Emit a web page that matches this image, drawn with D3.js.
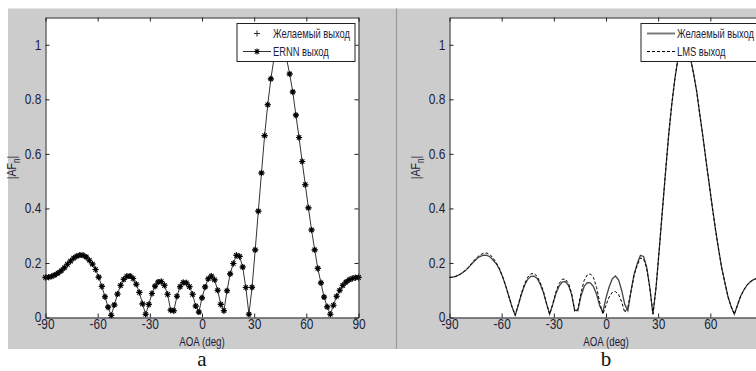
<!DOCTYPE html>
<html>
<head>
<meta charset="utf-8">
<script src="https://cdn.jsdelivr.net/npm/d3@7"></script>
<style>
body{margin:0;background:#fff;}
svg{display:block;}
</style>
</head>
<body>
<svg id="chart" width="756" height="371"></svg>
<script>
// angle grid (deg), step 1.8
var angles = [
    -90, -88.2, -86.4, -84.6, -82.8, -81, -79.2, -77.4, -75.6, -73.8,
    -72, -70.2, -68.4, -66.6, -64.8, -63, -61.2, -59.4, -57.6, -55.8,
    -54, -52.2, -50.4, -48.6, -46.8, -45, -43.2, -41.4, -39.6, -37.8,
    -36, -34.2, -32.4, -30.6, -28.8, -27, -25.2, -23.4, -21.6, -19.8,
    -18, -16.2, -14.4, -12.6, -10.8, -9, -7.2, -5.4, -3.6, -1.8,
    0, 1.8, 3.6, 5.4, 7.2, 9, 10.8, 12.6, 14.4, 16.2,
    18, 19.8, 21.6, 23.4, 25.2, 27, 28.8, 30.6, 32.4, 34.2,
    36, 37.8, 39.6, 41.4, 43.2, 45, 46.8, 48.6, 50.4, 52.2,
    54, 55.8, 57.6, 59.4, 61.2, 63, 64.8, 66.6, 68.4, 70.2,
    72, 73.8, 75.6, 77.4, 79.2, 81, 82.8, 84.6, 86.4, 88.2,
    90
];
// |AF| desired output
var desired = [
    0.147, 0.148, 0.151, 0.156, 0.163, 0.171, 0.182, 0.195, 0.207, 0.218,
    0.225, 0.229, 0.228, 0.222, 0.210, 0.196, 0.176, 0.148, 0.114, 0.076,
    0.038, 0.008, 0.046, 0.086, 0.118, 0.140, 0.151, 0.152, 0.143, 0.122,
    0.092, 0.050, 0.012, 0.048, 0.088, 0.115, 0.130, 0.132, 0.118, 0.085,
    0.027, 0.025, 0.078, 0.113, 0.128, 0.127, 0.113, 0.085, 0.042, 0.020,
    0.072, 0.112, 0.142, 0.152, 0.138, 0.100, 0.048, 0.025, 0.098, 0.160,
    0.198, 0.228, 0.224, 0.185, 0.110, 0.012, 0.111, 0.248, 0.390, 0.530,
    0.667, 0.780, 0.875, 0.950, 0.990, 1.000, 0.985, 0.950, 0.893, 0.827,
    0.742, 0.660, 0.572, 0.487, 0.402, 0.321, 0.248, 0.180, 0.127, 0.075,
    0.039, 0.012, 0.045, 0.078, 0.100, 0.118, 0.130, 0.138, 0.143, 0.146,
    0.147
];
// ERNN output (panel a)
var ernn = [
    0.147, 0.148, 0.151, 0.156, 0.163, 0.171, 0.182, 0.195, 0.207, 0.218,
    0.225, 0.229, 0.228, 0.222, 0.210, 0.196, 0.176, 0.148, 0.114, 0.076,
    0.038, 0.008, 0.046, 0.086, 0.118, 0.140, 0.151, 0.152, 0.143, 0.122,
    0.092, 0.050, 0.012, 0.048, 0.088, 0.115, 0.130, 0.132, 0.118, 0.085,
    0.027, 0.025, 0.078, 0.113, 0.128, 0.127, 0.113, 0.085, 0.042, 0.020,
    0.072, 0.112, 0.142, 0.152, 0.138, 0.100, 0.048, 0.025, 0.098, 0.160,
    0.198, 0.228, 0.224, 0.185, 0.110, 0.012, 0.111, 0.248, 0.390, 0.530,
    0.667, 0.780, 0.875, 0.950, 0.990, 1.000, 0.985, 0.950, 0.893, 0.827,
    0.742, 0.660, 0.572, 0.487, 0.402, 0.321, 0.248, 0.180, 0.127, 0.075,
    0.039, 0.012, 0.045, 0.078, 0.100, 0.118, 0.130, 0.138, 0.143, 0.146,
    0.147
];
// LMS output (panel b)
var lms = [
    0.147, 0.148, 0.151, 0.156, 0.163, 0.172, 0.184, 0.198, 0.211, 0.223,
    0.231, 0.236, 0.236, 0.230, 0.217, 0.200, 0.178, 0.149, 0.114, 0.076,
    0.038, 0.008, 0.048, 0.090, 0.124, 0.148, 0.160, 0.161, 0.151, 0.128,
    0.096, 0.052, 0.012, 0.050, 0.094, 0.124, 0.140, 0.141, 0.126, 0.090,
    0.022, 0.030, 0.090, 0.135, 0.156, 0.160, 0.146, 0.110, 0.055, 0.012,
    0.045, 0.075, 0.092, 0.095, 0.085, 0.058, 0.018, 0.040, 0.096, 0.156,
    0.192, 0.218, 0.215, 0.180, 0.108, 0.012, 0.111, 0.248, 0.390, 0.530,
    0.667, 0.780, 0.875, 0.950, 0.990, 1.000, 0.985, 0.950, 0.893, 0.827,
    0.742, 0.660, 0.572, 0.487, 0.402, 0.321, 0.248, 0.180, 0.127, 0.075,
    0.039, 0.012, 0.045, 0.078, 0.100, 0.118, 0.130, 0.138, 0.143, 0.146,
    0.147
];
var xTicks = [-90, -60, -30, 0, 30, 60, 90];
var yTicks = [0, 0.2, 0.4, 0.6, 0.8, 1];

var FONT = "'Liberation Sans',Arial,sans-serif";
var SERIF = "'Liberation Serif','Times New Roman',serif";
var NARROW = 0.78; // squeeze Arial to look like the narrow MATLAB font
var TXT = "#1c1c3a";
var PLUS = "M-3,0H3M0,-3V3";
var STAR = "M-3,0H3M0,-3V3M-2.2,-2.2L2.2,2.2M-2.2,2.2L2.2,-2.2";

var svg = d3.select("#chart");

// figure background + divider between the two figures
svg.append("rect").attr("x", 8).attr("y", 8.5).attr("width", 748).attr("height", 340.5).attr("fill", "#cccccc");
svg.append("line").attr("x1", 396.5).attr("x2", 396.5).attr("y1", 8.5).attr("y2", 349)
    .attr("stroke", "#999").attr("stroke-width", 1.2);

function label(parent, x, y, txt, anchor) {
    return parent.append("text")
        .attr("transform", "translate(" + x + "," + y + ") scale(" + NARROW + ",1)")
        .attr("text-anchor", anchor || "start")
        .attr("font-family", FONT).attr("font-size", 12).attr("fill", TXT)
        .text(txt);
}

function makePanel(left) {
    var w = 313, top = 17.5, bottom = 317.5;
    var p = {left: left, w: w, top: top, bottom: bottom};
    p.x = d3.scaleLinear().domain([-90, 90]).range([left, left + w]);
    p.y = d3.scaleLinear().domain([0, 1.1]).range([bottom, top]);
    p.g = svg.append("g");
    p.g.append("rect").attr("x", left).attr("y", top).attr("width", w).attr("height", bottom - top).attr("fill", "#fff");
    p.data = p.g.append("g");
    return p;
}

function drawAxes(p, letter) {
    var g = p.g.append("g").attr("class", "axes");
    g.append("g").attr("transform", "translate(0," + p.bottom + ")")
        .call(d3.axisBottom(p.x).tickValues(xTicks).tickSizeInner(-4).tickSizeOuter(0).tickPadding(2)
            .tickFormat(function(d){ return String(d); }));
    g.append("g").attr("transform", "translate(0," + p.top + ")")
        .call(d3.axisTop(p.x).tickValues(xTicks).tickSizeInner(-4).tickSizeOuter(0).tickFormat(""));
    g.append("g").attr("transform", "translate(" + p.left + ",0)")
        .call(d3.axisLeft(p.y).tickValues(yTicks).tickSizeInner(-4).tickSizeOuter(0).tickPadding(5)
            .tickFormat(function(d){ return d === 0 || d === 1 ? String(d) : d.toFixed(1); }));
    g.append("g").attr("transform", "translate(" + (p.left + p.w) + ",0)")
        .call(d3.axisRight(p.y).tickValues(yTicks).tickSizeInner(-4).tickSizeOuter(0).tickFormat(""));

    g.selectAll(".domain").attr("stroke", "#222");
    g.selectAll(".tick line").attr("stroke", "#222");
    g.selectAll(".tick text").attr("fill", TXT).attr("font-family", FONT).attr("font-size", 14)
        .attr("transform", "scale(0.85,1)");

    var cx = p.left + p.w / 2;
    label(g, cx, 346, "AOA (deg)", "middle").attr("font-size", 12.5);

    var yl = g.append("text")
        .attr("transform", "translate(" + (p.left - 29.5) + "," + ((p.top + p.bottom) / 2) + ") rotate(-90) scale(0.82,1)")
        .attr("text-anchor", "middle").attr("font-family", FONT).attr("font-size", 13).attr("fill", TXT);
    yl.append("tspan").text("|AF");
    yl.append("tspan").attr("dy", 4).attr("font-size", 10).text("n");
    yl.append("tspan").attr("dy", -4).text("|");

    svg.append("text").attr("x", cx).attr("y", 366).attr("text-anchor", "middle")
        .attr("font-family", SERIF).attr("font-size", 21).attr("fill", "#111").text(letter);
}

function drawLegend(p, rows) {
    var bx = p.left + p.w - 121.5, by = 23.5, bw = 118, bh = 38;
    var lg = p.g.append("g");
    lg.append("rect").attr("x", bx).attr("y", by).attr("width", bw).attr("height", bh)
        .attr("fill", "#fff").attr("stroke", "#222");
    rows.forEach(function(r, i) {
        var ry = by + 10 + i * 18;
        if (r.line) {
            lg.append("line").attr("x1", bx + 6).attr("x2", bx + 34).attr("y1", ry).attr("y2", ry)
                .attr("stroke", r.color).attr("stroke-width", r.width).attr("stroke-dasharray", r.dash || null);
        }
        if (r.marker) {
            lg.append("path").attr("d", r.marker).attr("transform", "translate(" + (bx + 20) + "," + ry + ")")
                .attr("fill", "none").attr("stroke", r.mcolor).attr("stroke-width", 1.1);
        }
        label(lg, bx + 36, ry + 4.5, r.label);
    });
}

// ---- panel a ----
var pa = makePanel(45.5);
var lineA = d3.line().x(function(d){ return pa.x(d[0]); }).y(function(d){ return pa.y(d[1]); });
pa.data.append("path").datum(d3.zip(angles, ernn)).attr("d", lineA)
    .attr("fill", "none").attr("stroke", "#333").attr("stroke-width", 1);
pa.data.selectAll(".plus").data(d3.zip(angles, desired)).enter().append("path").attr("class", "plus")
    .attr("d", PLUS).attr("transform", function(d){ return "translate(" + pa.x(d[0]) + "," + pa.y(d[1]) + ")"; })
    .attr("fill", "none").attr("stroke", "#555").attr("stroke-width", 1.2);
pa.data.selectAll(".star").data(d3.zip(angles, ernn)).enter().append("path").attr("class", "star")
    .attr("d", STAR).attr("transform", function(d){ return "translate(" + pa.x(d[0]) + "," + pa.y(d[1]) + ")"; })
    .attr("fill", "none").attr("stroke", "#000").attr("stroke-width", 1.1);
drawAxes(pa, "a");
drawLegend(pa, [
    {label: "Желаемый выход", marker: PLUS, mcolor: "#333"},
    {label: "ERNN выход", line: true, color: "#333", width: 1, marker: STAR, mcolor: "#000"}
]);

// ---- panel b ----
var pb = makePanel(449.5);
var lineB = d3.line().x(function(d){ return pb.x(d[0]); }).y(function(d){ return pb.y(d[1]); });
pb.data.append("path").datum(d3.zip(angles, desired)).attr("d", lineB)
    .attr("fill", "none").attr("stroke", "#444").attr("stroke-width", 1.3);
pb.data.append("path").datum(d3.zip(angles, lms)).attr("d", lineB)
    .attr("fill", "none").attr("stroke", "#000").attr("stroke-width", 1).attr("stroke-dasharray", "3,2");
drawAxes(pb, "b");
drawLegend(pb, [
    {label: "Желаемый выход", line: true, color: "#7a7a7a", width: 2},
    {label: "LMS выход", line: true, color: "#000", width: 1, dash: "3,2"}
]);
</script>
</body>
</html>
